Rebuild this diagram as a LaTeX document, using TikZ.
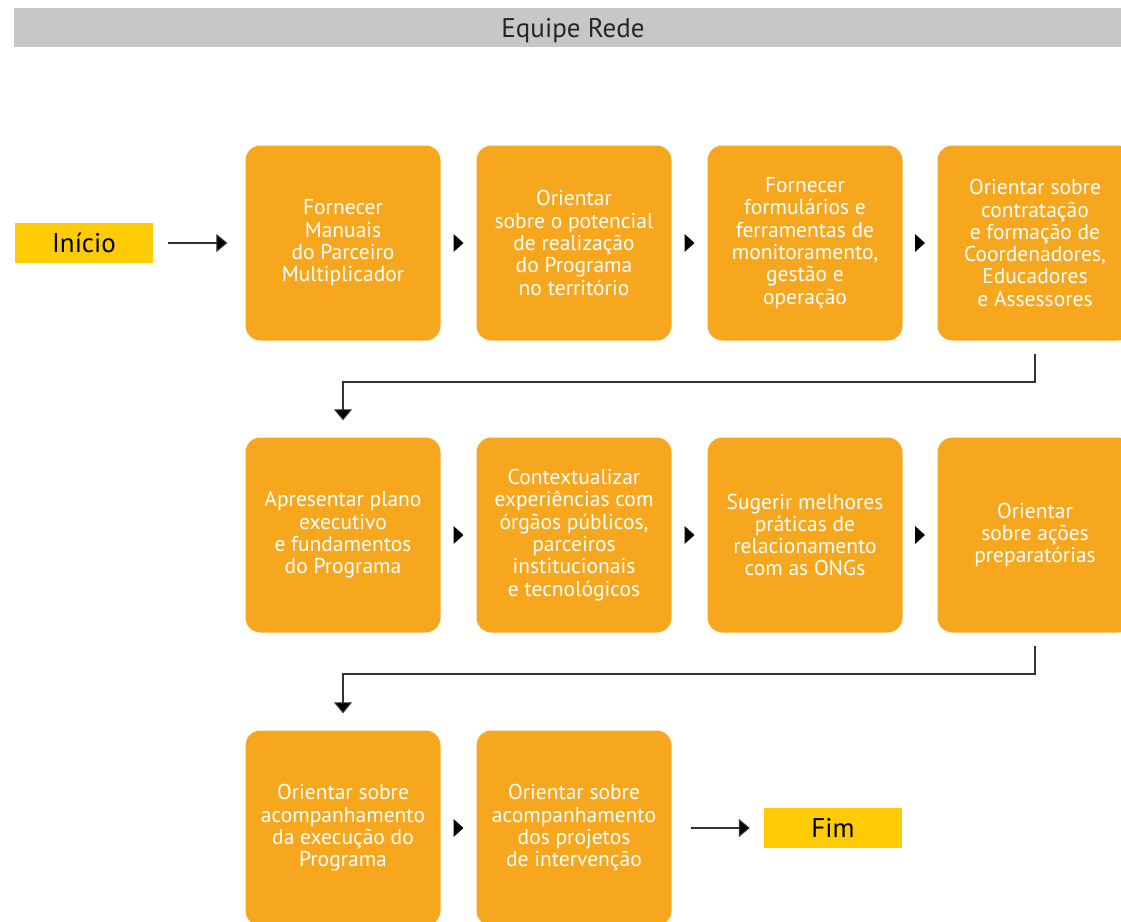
\documentclass[tikz,border=0pt]{standalone}
\usepackage{fontspec}
\setmainfont{PT Sans}
\usetikzlibrary{arrows.meta}
\definecolor{stepfill}{HTML}{F7A71E}
\definecolor{endfill}{HTML}{FFCB05}
\definecolor{headfill}{HTML}{C6C7C9}
\definecolor{linegray}{HTML}{333333}
\tikzset{
  stepbox/.style={fill=stepfill, rounded corners=15pt, minimum width=195pt,
    minimum height=195pt, inner sep=0pt, text=white, align=center,
    font=\fontsize{21.5}{22.3}\selectfont},
  endbox/.style={fill=endfill, minimum width=138pt, minimum height=40pt,
    inner sep=0pt, font=\fontsize{27}{30}\selectfont},
  flow/.style={draw=linegray, line width=1.1pt,
    -{Triangle[length=11pt,width=18pt,fill=black]}},
  gap/.style={fill=black},
}
\begin{document}
\begin{tikzpicture}[x=1pt,y=-1pt]
\useasboundingbox[fill=white] (0,0) rectangle (1121,921);

% header band
\fill[headfill] (14,8) rectangle (1121,47);
\node[font=\fontsize{27}{30}\selectfont, text=black!85] (head) at (573,31) {Equipe Rede};

% start and end
\node[endbox] (start) at (84,243) {Início};
\node[endbox] (stop) at (833,828) {Fim};

% first row
\node[stepbox] (a1) at (343,243) {Fornecer\\Manuais\\do Parceiro\\Multiplicador};
\node[stepbox] (a2) at (574,243) {Orientar\\sobre o potencial\\de realização\\do Programa\\no território};
\node[stepbox] (a3) at (805,243) {Fornecer\\formulários e\\ferramentas de\\monitoramento,\\gestão e\\operação};
\node[stepbox] (a4) at (1035,243) {Orientar sobre\\contratação\\e formação de\\Coordenadores,\\Educadores\\e Assessores};

% second row
\node[stepbox] (b1) at (343,535) {Apresentar plano\\executivo\\e fundamentos\\do Programa};
\node[stepbox] (b2) at (574,535) {Contextualizar\\experiências com\\órgãos públicos,\\parceiros\\institucionais\\e tecnológicos};
\node[stepbox] (b3) at (805,535) {Sugerir melhores\\práticas de\\relacionamento\\com as ONGs};
\node[stepbox] (b4) at (1035,535) {Orientar\\sobre ações\\preparatórias};

% third row
\node[stepbox] (c1) at (343,828) {Orientar sobre\\acompanhamento\\da execução do\\Programa};
\node[stepbox] (c2) at (574,828) {Orientar sobre\\acompanhamento\\dos projetos\\de intervenção};

% small pointers between neighbouring steps
\foreach \l/\r in {a1/a2,a2/a3,a3/a4,b1/b2,b2/b3,b3/b4,c1/c2}{
  \path (\l.east) -- (\r.west) coordinate[pos=0.5] (m);
  \fill[gap] ([xshift=-5pt,yshift=-9pt]m) -- ([xshift=5pt]m) -- ([xshift=-5pt,yshift=9pt]m) -- cycle;
}

% connectors
\coordinate (sA) at (168,243);
\draw[flow] (sA) -- ([xshift=-18pt]a1.west);
\coordinate (k1) at (343,382);
\coordinate (k2) at (343,674);
\draw[flow] ([yshift=-13pt]a4.south) |- (k1) -- ([yshift=17pt]b1.north);
\draw[flow] ([yshift=-13pt]b4.south) |- (k2) -- ([yshift=17pt]c1.north);
\coordinate (sB) at (691,828);
\draw[flow] (sB) -- ([xshift=-14pt]stop.west);
\end{tikzpicture}
\end{document}
